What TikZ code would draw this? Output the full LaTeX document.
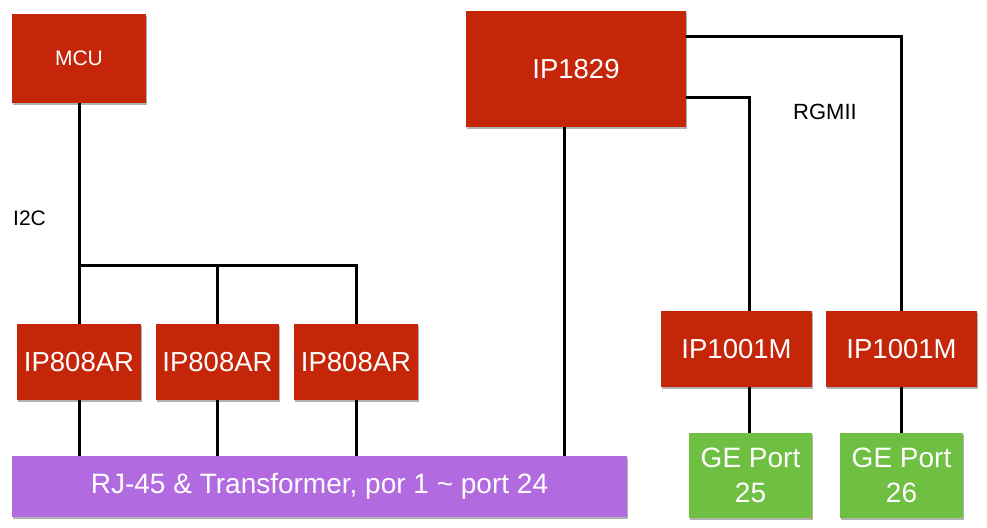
\documentclass[tikz,border=0pt]{standalone}
\usepackage{fontspec}
\setmainfont{Liberation Sans}
\usetikzlibrary{shadows}
\definecolor{chipred}{HTML}{C52508}
\definecolor{rjpurple}{HTML}{B26AE0}
\definecolor{portgreen}{HTML}{6FBF43}
\tikzset{
  box/.style={draw=none, text=white, inner sep=0pt, align=center,
    drop shadow={shadow xshift=1pt, shadow yshift=-2pt, opacity=0.3, fill=black}},
  chip/.style={box, fill=chipred},
  wire/.style={line width=3pt, draw=black},
  lbl/.style={text=black, inner sep=0pt, font=\fontsize{21}{25}\selectfont},
}
\begin{document}
\begin{tikzpicture}[x=1pt, y=-1pt]
\useasboundingbox (0,0) rectangle (987,527);
% nodes
\node[chip, minimum width=134pt, minimum height=89pt, font=\fontsize{21}{25}\selectfont] (mcu) at (79,58.5) {MCU};
\node[chip, minimum width=220pt, minimum height=116pt, font=\fontsize{27.5}{33}\selectfont] (sw) at (576,69) {IP1829};
\node[chip, minimum width=124pt, minimum height=76pt, font=\fontsize{27.5}{33}\selectfont] (ipa) at (79,362) {IP808AR};
\node[chip, minimum width=123pt, minimum height=76pt, font=\fontsize{27.5}{33}\selectfont] (ipb) at (217.5,362) {IP808AR};
\node[chip, minimum width=124pt, minimum height=76pt, font=\fontsize{27.5}{33}\selectfont] (ipc) at (356,362) {IP808AR};
\node[box, fill=rjpurple, minimum width=615pt, minimum height=61pt, font=\fontsize{28}{33}\selectfont] (rj) at (319.5,486.5) {RJ-45 \& Transformer, por 1 \char`\~{} port 24};
\node[chip, minimum width=151pt, minimum height=76pt, font=\fontsize{27.5}{33}\selectfont] (phya) at (736.5,349) {IP1001M};
\node[chip, minimum width=151pt, minimum height=76pt, font=\fontsize{27.5}{33}\selectfont] (phyb) at (901.5,349) {IP1001M};
\node[box, fill=portgreen, minimum width=123pt, minimum height=85pt, font=\fontsize{28}{35}\selectfont] (gea) at (750.5,475.5) {GE Port\\25};
\node[box, fill=portgreen, minimum width=123pt, minimum height=85pt, font=\fontsize{28}{35}\selectfont] (geb) at (901.5,475.5) {GE Port\\26};
% labels
\node[lbl, anchor=west] (i2c) at (13,218) {I2C};
\node[lbl, font=\fontsize{22}{26}\selectfont] (rgmii) at (825,112) {RGMII};
% helper coordinates
\coordinate (bus) at (79,265);
\coordinate (xsw) at (564,0);
\coordinate (xa) at (749,97);
\coordinate (xb) at (901.5,37);
% wires
\draw[wire] (mcu.south) -- (bus) -| (ipc.north);
\draw[wire] (bus) -- (ipa.north);
\draw[wire] (217,265) -- (217,324);
\draw[wire] (ipa.south) -- (ipa.south |- rj.north);
\draw[wire] (217,400) -- (217,456);
\draw[wire] (ipc.south) -- (ipc.south |- rj.north);
\draw[wire] (sw.south -| xsw) -- (rj.north -| xsw);
\draw[wire] (sw.east |- xa) -- (xa) -- (xa |- phya.north);
\draw[wire] (sw.east |- xb) -- (xb) -- (phyb.north);
\draw[wire] (phya.south -| xa) -- (gea.north -| xa);
\draw[wire] (phyb.south) -- (geb.north);
\end{tikzpicture}
\end{document}
